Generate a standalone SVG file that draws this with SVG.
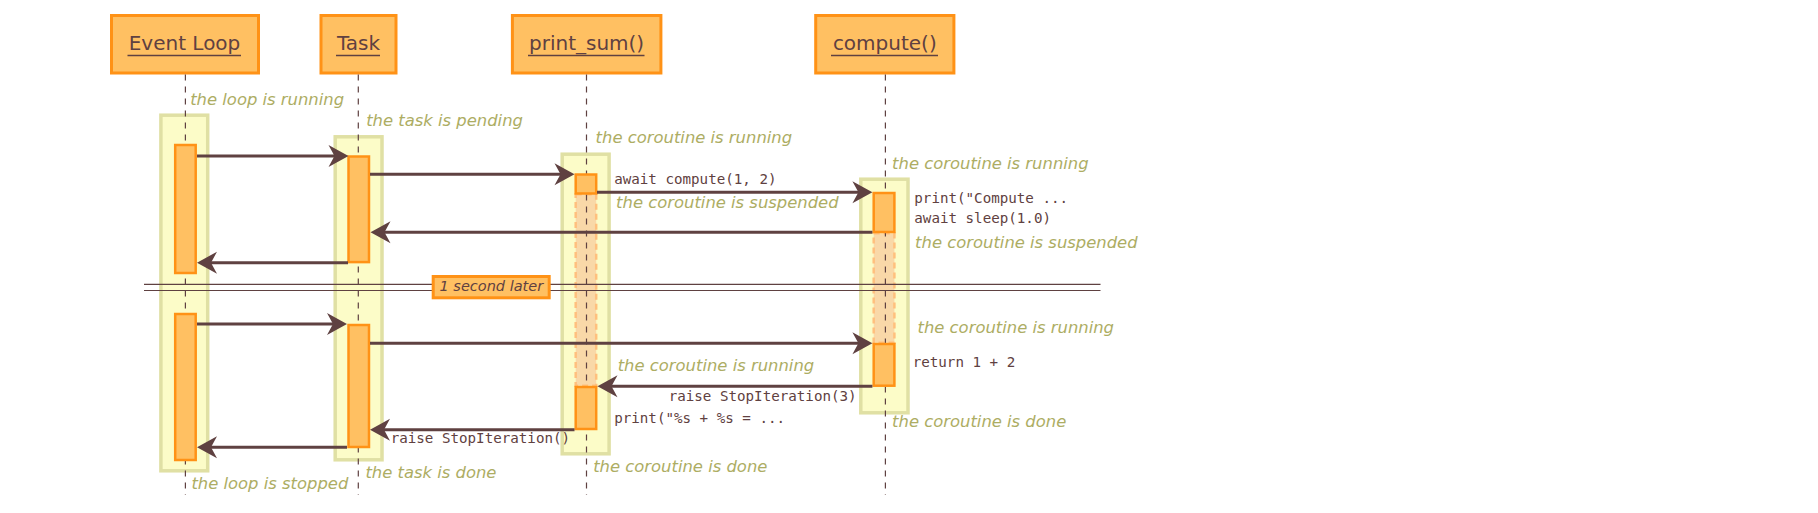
<svg xmlns="http://www.w3.org/2000/svg" width="1818" height="513" viewBox="0 0 1818 513">
<defs>
<style>
.pbox{fill:#ffc062;stroke:#ff9216;stroke-width:3}
.ptxt{font-family:"DejaVu Sans",sans-serif;font-size:20px;fill:#5f4141;text-anchor:middle}
.uline{stroke:#5f4141;stroke-width:1.5}
.life{stroke:#5f4141;stroke-width:1.2;stroke-dasharray:6,6;fill:none}
.grp{fill:#fcfcc8;stroke:#e0e0a4;stroke-width:3.5}
.bar{fill:#ffc062;stroke:#ff9216;stroke-width:2.5}
.susp{fill:#f9d8a8;stroke:#ffc07e;stroke-width:2.5;stroke-dasharray:6,4}
.msg{stroke:#5f4141;stroke-width:3;fill:none;marker-end:url(#ah)}
.sep{stroke:#5f4141;stroke-width:1.2}
.note{font-family:"DejaVu Sans",sans-serif;font-style:italic;font-size:16.4px;fill:#adad63}
.code{font-family:"DejaVu Sans Mono",monospace;font-size:14.2px;fill:#5f4141}
.septxt{font-family:"DejaVu Sans",sans-serif;font-style:italic;font-size:14.5px;fill:#5f4141}
</style>
<marker id="ah" viewBox="-12 -12 24 24" refX="0" refY="0" markerWidth="24" markerHeight="24" markerUnits="userSpaceOnUse" orient="auto">
<path d="M10,0 L-10,-11 L-4,0 L-10,11 Z" fill="#5f4141"/>
</marker>
</defs>
<rect width="1818" height="513" fill="#ffffff"/>

<g id="groups">
<rect class="grp" x="160.9" y="115.2" width="46.8" height="355.6"/>
<rect class="grp" x="335.2" y="136.8" width="46.8" height="323"/>
<rect class="grp" x="562.2" y="154.2" width="46.9" height="299.6"/>
<rect class="grp" x="860.8" y="179.2" width="47.2" height="233.6"/>
</g>
<g id="suspended">
<rect class="susp" x="575.7" y="194.3" width="20.5" height="191.4"/>
<rect class="susp" x="873.7" y="233.3" width="20.7" height="109.4"/>
</g>

<g id="event-loop">
<rect class="pbox" x="111.5" y="15.5" width="147" height="57.5"/>
<text class="ptxt" x="184.5" y="50">Event Loop</text>
<line class="uline" x1="127.5" y1="55.5" x2="241" y2="55.5"/>
<line class="life" x1="185.4" y1="74.5" x2="185.4" y2="495"/>
</g>
<g id="task">
<rect class="pbox" x="321" y="15.5" width="75" height="57.5"/>
<text class="ptxt" x="358.5" y="50">Task</text>
<line class="uline" x1="336" y1="55.5" x2="380" y2="55.5"/>
<line class="life" x1="358.3" y1="74.5" x2="358.3" y2="495"/>
</g>
<g id="print_sum">
<rect class="pbox" x="512.4" y="15.5" width="148.5" height="57.5"/>
<text class="ptxt" x="586.6" y="50">print_sum()</text>
<line class="uline" x1="528" y1="55.5" x2="644.5" y2="55.5"/>
<line class="life" x1="586.5" y1="74.5" x2="586.5" y2="495"/>
</g>
<g id="compute">
<rect class="pbox" x="815.7" y="15.5" width="138.2" height="57.5"/>
<text class="ptxt" x="884.8" y="50">compute()</text>
<line class="uline" x1="831" y1="55.5" x2="938" y2="55.5"/>
<line class="life" x1="885.4" y1="74.5" x2="885.4" y2="495"/>
</g>

<g id="activations">
<rect class="bar" x="175.2" y="145" width="20.5" height="128"/>
<rect class="bar" x="175.2" y="314" width="20.5" height="146"/>
<rect class="bar" x="348.5" y="156.5" width="20.5" height="105.6"/>
<rect class="bar" x="348.5" y="325" width="20.5" height="122"/>
<rect class="bar" x="575.7" y="174.5" width="20.5" height="19"/>
<rect class="bar" x="575.7" y="387" width="20.5" height="42"/>
<rect class="bar" x="873.7" y="193" width="20.7" height="39"/>
<rect class="bar" x="873.7" y="344" width="20.7" height="41.7"/>
</g>

<g id="connectors">
<line class="msg" x1="197" y1="156" x2="338.5" y2="156"/>
<line class="msg" x1="370" y1="174.3" x2="564.5" y2="174.3"/>
<line class="msg" x1="597" y1="192.3" x2="862.4" y2="192.3"/>
<line class="msg" x1="872.4" y1="232.3" x2="380.5" y2="232.3"/>
<line class="msg" x1="348" y1="262.7" x2="207" y2="262.7"/>
<line class="msg" x1="197" y1="324" x2="337" y2="324"/>
<line class="msg" x1="370" y1="343.3" x2="862.4" y2="343.3"/>
<line class="msg" x1="872.4" y1="386.3" x2="607.5" y2="386.3"/>
<line class="msg" x1="574.5" y1="429.7" x2="380" y2="429.7"/>
<line class="msg" x1="347" y1="447.3" x2="207" y2="447.3"/>
</g>

<g id="separator">
<line class="sep" x1="144" y1="284.3" x2="1100.5" y2="284.3"/>
<line class="sep" x1="144" y1="290.5" x2="1100.5" y2="290.5"/>
<rect class="pbox" x="433.2" y="276.5" width="116" height="21.3"/>
<text class="septxt" x="439.5" y="291.3">1 second later</text>
</g>

<g id="labels">
<text class="note" x="190.2" y="105">the loop is running</text>
<text class="note" x="366.2" y="126">the task is pending</text>
<text class="note" x="595.6" y="143.3">the coroutine is running</text>
<text class="note" x="892.1" y="168.7">the coroutine is running</text>
<text class="code" x="614.2" y="184">await compute(1, 2)</text>
<text class="note" x="616.1" y="208.3">the coroutine is suspended</text>
<text class="code" x="914.3" y="203.3">print("Compute ...</text>
<text class="code" x="914.3" y="222.7">await sleep(1.0)</text>
<text class="note" x="915.1" y="248.3">the coroutine is suspended</text>
<text class="note" x="917.5" y="333.3">the coroutine is running</text>
<text class="code" x="912.7" y="366.7">return 1 + 2</text>
<text class="note" x="617.7" y="371.3">the coroutine is running</text>
<text class="code" x="668.7" y="400.7">raise StopIteration(3)</text>
<text class="code" x="614.2" y="423">print("%s + %s = ...</text>
<text class="code" x="390.7" y="442.7">raise StopIteration()</text>
<text class="note" x="892.1" y="427.3">the coroutine is done</text>
<text class="note" x="593.2" y="472.3">the coroutine is done</text>
<text class="note" x="191.4" y="489.3">the loop is stopped</text>
<text class="note" x="365.4" y="478.3">the task is done</text>
</g>
</svg>
